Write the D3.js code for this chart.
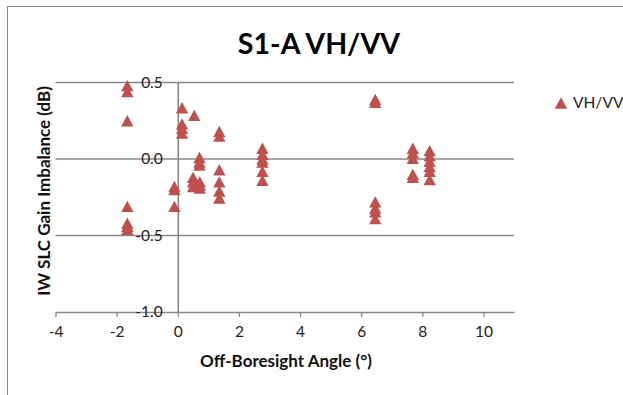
<!DOCTYPE html>
<html>
<head>
<meta charset="utf-8">
<script src="https://cdn.jsdelivr.net/npm/d3@7"></script>
<style>
  html, body { margin: 0; padding: 0; background: #fff; }
  svg { display: block; font-family: Lato, "Open Sans", sans-serif; }
</style>
</head>
<body>
<div id="chart"></div>
<script>
// VH/VV gain imbalance points
const angles = [
  -1.65, -1.65, -1.65, -1.65, -1.65, -1.65, -1.65,
  -0.11, -0.11, -0.11,
  0.14, 0.14, 0.14, 0.14,
  0.54,
  0.71, 0.71, 0.71,
  0.50, 0.50, 0.50,
  0.72, 0.72, 0.72,
  1.36, 1.36, 1.36, 1.36, 1.36, 1.36,
  2.77, 2.77, 2.77, 2.77, 2.77, 2.77,
  6.46, 6.46, 6.46, 6.46, 6.46, 6.46,
  7.69, 7.69, 7.69, 7.69, 7.69,
  8.24, 8.24, 8.24, 8.24, 8.24, 8.24
];
const imbalance = [
  0.48, 0.44, 0.25, -0.31, -0.42, -0.44, -0.46,
  -0.18, -0.20, -0.31,
  0.335, 0.23, 0.20, 0.17,
  0.285,
  0.01, -0.02, -0.04,
  -0.12, -0.15, -0.18,
  -0.15, -0.17, -0.19,
  0.18, 0.15, -0.07, -0.15, -0.21, -0.255,
  0.07, 0.03, 0.0, -0.02, -0.08, -0.14,
  0.39, 0.37, -0.28, -0.32, -0.345, -0.39,
  0.07, 0.04, 0.005, -0.10, -0.12,
  0.055, 0.02, -0.015, -0.05, -0.08, -0.135
];
const xTicks = [-4, -2, 0, 2, 4, 6, 8, 10];
const yTicks = [0.5, 0.0, -0.5, -1.0];
const seriesName = "VH/VV";

const width = 623;
const height = 395;
const red = "#c0504d";
const grid = "#888888";

// triangle drawn around its box centre, like the Excel marker
const triangle = {
  draw(context, size) {
    const w = Math.sqrt(size * 1.6);
    const h = w * 0.92;
    context.moveTo(0, -h / 2);
    context.lineTo(w / 2, h / 2);
    context.lineTo(-w / 2, h / 2);
    context.closePath();
  }
};

const svg = d3.select("#chart")
  .append("svg")
  .attr("width", width)
  .attr("height", height);

svg.append("rect")
  .attr("x", 7.5)
  .attr("y", 6.5)
  .attr("width", 700)
  .attr("height", 500)
  .attr("fill", "#fff")
  .attr("stroke", "#8a8a8a");

const x = d3.scaleLinear().domain([-4, 11]).range([55.5, 514]);
const y = d3.scaleLinear().domain([-1, 0.5]).range([312, 82.5]);

// horizontal gridlines
svg.append("g")
  .selectAll("line")
  .data(yTicks.filter(d => d > -1))
  .join("line")
  .attr("x1", x.range()[0])
  .attr("x2", x.range()[1])
  .attr("y1", d => y(d))
  .attr("y2", d => y(d))
  .attr("stroke", grid)
  .attr("stroke-width", 1.6);

// x axis at the bottom
const xAxis = svg.append("g")
  .attr("transform", `translate(0,${y(-1)})`)
  .call(d3.axisBottom(x).tickValues(xTicks).tickSize(5).tickSizeOuter(0).tickPadding(9)
    .tickFormat(d => String(d)));
xAxis.select(".domain").attr("stroke", grid).attr("stroke-width", 1.6);
xAxis.selectAll(".tick line").attr("stroke", grid).attr("stroke-width", 1.3);
xAxis.selectAll(".tick text")
  .attr("font-family", "Lato, sans-serif")
  .attr("font-size", 15.5)
  .attr("fill", "#222");

// y axis crossing at x = 0
const yAxis = svg.append("g")
  .attr("transform", `translate(${x(0)},0)`)
  .call(d3.axisLeft(y).tickValues(yTicks).tickSize(0).tickPadding(15)
    .tickFormat(d => d.toFixed(1)));
yAxis.select(".domain").attr("stroke", grid).attr("stroke-width", 1.6);
yAxis.selectAll(".tick text")
  .attr("font-family", "Lato, sans-serif")
  .attr("font-size", 15.5)
  .attr("fill", "#222");

// points
svg.append("g")
  .selectAll("path")
  .data(d3.range(angles.length))
  .join("path")
  .attr("transform", i => `translate(${x(angles[i])},${y(imbalance[i])})`)
  .attr("d", d3.symbol().type(triangle).size(95))
  .attr("fill", red);

// title
svg.append("text")
  .attr("x", 319)
  .attr("y", 54)
  .attr("text-anchor", "middle")
  .attr("font-weight", "bold")
  .attr("font-size", 28.5)
  .attr("fill", "#000")
  .text("S1-A VH/VV");

// axis titles
svg.append("text")
  .attr("x", 286)
  .attr("y", 367)
  .attr("text-anchor", "middle")
  .attr("font-weight", "bold")
  .attr("font-size", 17)
  .attr("fill", "#111")
  .text("Off-Boresight Angle (°)");

svg.append("text")
  .attr("transform", "translate(50,191) rotate(-90)")
  .attr("text-anchor", "middle")
  .attr("font-weight", "bold")
  .attr("font-size", 17)
  .attr("fill", "#111")
  .text("IW SLC Gain Imbalance (dB)");

// legend
const legend = svg.append("g").attr("transform", "translate(561,103)");
legend.append("path")
  .attr("d", d3.symbol().type(triangle).size(95))
  .attr("fill", red);
legend.append("text")
  .attr("x", 12)
  .attr("y", 5)
  .attr("font-size", 15.5)
  .attr("fill", "#222")
  .text(seriesName);
</script>
</body>
</html>
